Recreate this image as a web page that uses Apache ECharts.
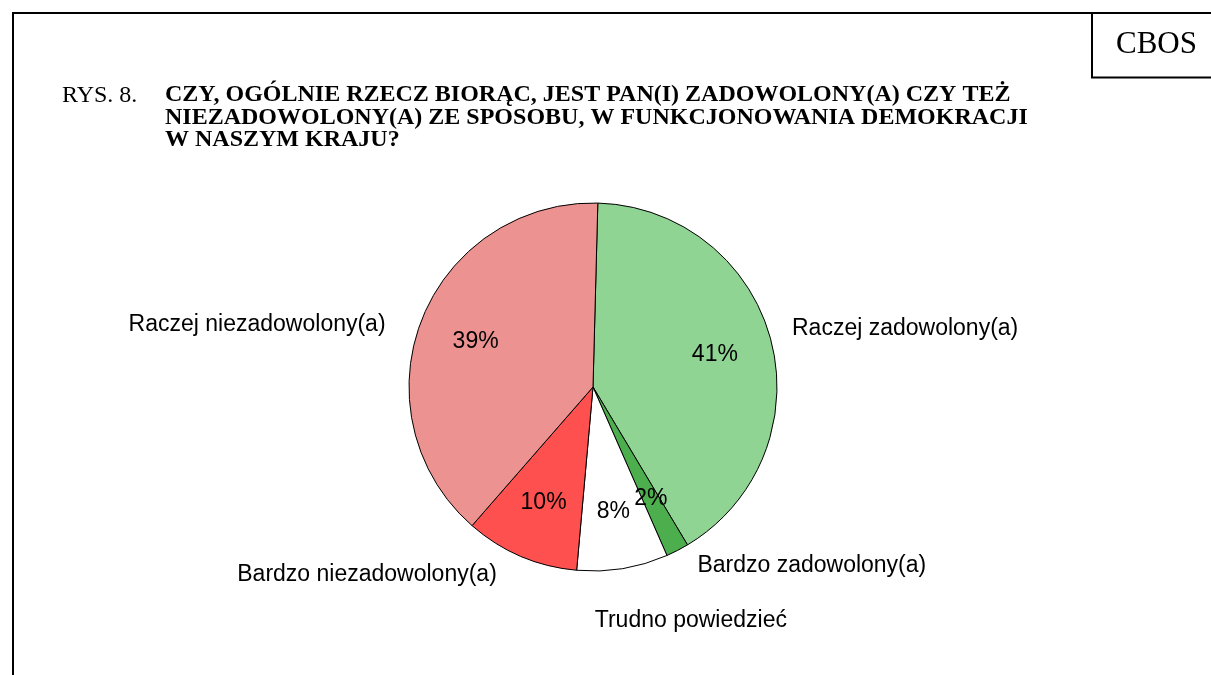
<!DOCTYPE html>
<html>
<head>
<meta charset="utf-8">
<title>RYS. 8</title>
<script src="https://cdn.jsdelivr.net/npm/echarts@6/dist/echarts.min.js"></script>
<style>
  html, body { margin: 0; padding: 0; background: #fff; }
  #main { width: 1211px; height: 675px; }
</style>
</head>
<body>
<div id="main"></div>
<script>
const categories = [
  "Raczej zadowolony(a)",
  "Bardzo zadowolony(a)",
  "Trudno powiedzieć",
  "Bardzo niezadowolony(a)",
  "Raczej niezadowolony(a)",
];
const values = [41, 2, 8, 10, 39];
const sliceColors = ["#8fd493", "#4cae4c", "#ffffff", "#ff5050", "#ec9391"];

// shift of the outer names from where echarts puts them by default
const nameOffsets = [
  [21, -12],
  [20, 15],
  [-28, 52],
  [-24, 18],
  [-36, 4],
];

const titleLines = [
  "CZY, OGÓLNIE RZECZ BIORĄC, JEST PAN(I) ZADOWOLONY(A) CZY TEŻ",
  "NIEZADOWOLONY(A) ZE SPOSOBU, W FUNKCJONOWANIA DEMOKRACJI",
  "W NASZYM KRAJU?",
];

const sans = "Liberation Sans, Arial, sans-serif";
const serif = "Liberation Serif, Times New Roman, serif";

const pieData = categories.map((name, i) => ({
  name: name,
  value: values[i],
  itemStyle: { color: sliceColors[i] },
}));

const myChart = echarts.init(document.getElementById("main"), null, { renderer: "canvas" });

myChart.setOption({
  animation: false,
  title: [
    {
      text: "RYS. 8.",
      left: 62,
      top: 84,
      padding: 0,
      textStyle: { fontFamily: serif, fontSize: 24, fontWeight: "normal", color: "#000", lineHeight: 22.5 },
    },
    {
      text: titleLines.join("\n"),
      left: 165,
      top: 84,
      padding: 0,
      textStyle: { fontFamily: serif, fontSize: 24, fontWeight: "bold", color: "#000", lineHeight: 22.5 },
    },
    {
      text: "CBOS",
      left: 1116,
      top: 29,
      padding: 0,
      textStyle: { fontFamily: serif, fontSize: 31, fontWeight: "normal", color: "#000" },
    },
  ],
  graphic: [
    { type: "line", shape: { x1: 13, y1: 13, x2: 13, y2: 675 }, style: { stroke: "#000", lineWidth: 2 } },
    { type: "line", shape: { x1: 12, y1: 13, x2: 1211, y2: 13 }, style: { stroke: "#000", lineWidth: 2 } },
    { type: "line", shape: { x1: 1092, y1: 13, x2: 1092, y2: 77.5 }, style: { stroke: "#000", lineWidth: 2 } },
    { type: "line", shape: { x1: 1091, y1: 77.5, x2: 1211, y2: 77.5 }, style: { stroke: "#000", lineWidth: 2 } },
  ],
  series: [
    {
      // the pie itself, names outside
      type: "pie",
      center: [593, 387],
      radius: 184,
      startAngle: 88.5,
      clockwise: true,
      avoidLabelOverlap: false,
      silent: true,
      itemStyle: { borderColor: "#000", borderWidth: 1 },
      label: {
        show: true,
        position: "outside",
        formatter: "{b}",
        fontFamily: sans,
        fontSize: 23,
        color: "#000",
        distanceToLabelLine: 0,
      },
      labelLine: { show: false, length: 0, length2: 0 },
      labelLayout: (p) => {
        const o = nameOffsets[p.dataIndex];
        return {
          x: p.labelRect.x + o[0],
          y: p.labelRect.y + o[1],
          align: "left",
          verticalAlign: "top",
        };
      },
      emphasis: { disabled: true },
      data: pieData,
    },
    {
      // invisible copy, only for the percentages at 2/3 of the radius
      type: "pie",
      center: [593, 387],
      radius: [62, 184],
      startAngle: 88.5,
      clockwise: true,
      silent: true,
      itemStyle: { color: "transparent", borderWidth: 0 },
      label: {
        show: true,
        position: "inside",
        formatter: "{c}%",
        fontFamily: sans,
        fontSize: 23,
        color: "#000",
      },
      labelLine: { show: false },
      emphasis: { disabled: true },
      data: categories.map((name, i) => ({ name: name, value: values[i] })),
    },
  ],
});
</script>
</body>
</html>
